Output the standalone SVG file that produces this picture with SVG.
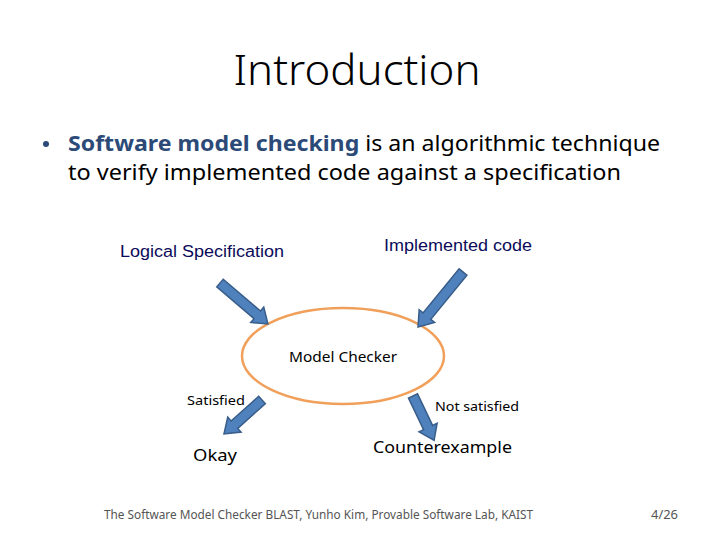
<svg xmlns="http://www.w3.org/2000/svg" width="720" height="540" viewBox="0 0 720 540">
<style>
  .sans { font-family: "Noto Sans", "Open Sans", sans-serif; }
  .arial { font-family: "Liberation Sans", Arial, sans-serif; fill: #0B0B5A; font-size: 16px; }
  .arrow { fill: #4F81BD; stroke: #385D8A; stroke-width: 1.5; stroke-linejoin: miter; }
</style>
<rect width="720" height="540" fill="#ffffff"/>
<text class="sans" x="357" y="85" font-size="42" font-weight="300" text-anchor="middle" fill="#000" textLength="247" lengthAdjust="spacingAndGlyphs">Introduction</text>
<circle cx="46" cy="144" r="3" fill="#2B4A78"/>
<text class="sans" x="68" y="151" font-size="21" fill="#000" textLength="592" lengthAdjust="spacingAndGlyphs"><tspan font-weight="bold" fill="#2B4A78">Software model checking</tspan> is an algorithmic technique</text>
<text class="sans" x="68" y="180" font-size="21" fill="#000" textLength="553" lengthAdjust="spacingAndGlyphs">to verify implemented code against a specification</text>

<g id="logical-spec"><text class="arial" x="120" y="257" textLength="164" lengthAdjust="spacingAndGlyphs">Logical Specification</text></g>
<g id="implemented-code"><text class="arial" x="384" y="251" textLength="148" lengthAdjust="spacingAndGlyphs">Implemented code</text></g>
<g id="model-checker">
  <ellipse cx="343" cy="356" rx="101" ry="48" fill="none" stroke="#F0A05A" stroke-width="2.5"/>
  <text class="sans" x="289" y="362" font-size="15" fill="#000" textLength="108" lengthAdjust="spacingAndGlyphs">Model Checker</text>
</g>
<g id="okay"><text class="sans" x="193" y="461" font-size="17" fill="#000" textLength="44" lengthAdjust="spacingAndGlyphs">Okay</text></g>
<g id="counterexample"><text class="sans" x="373" y="453" font-size="17" fill="#000" textLength="139" lengthAdjust="spacingAndGlyphs">Counterexample</text></g>

<g id="connectors">
  <g transform="translate(220,283) rotate(40.5)"><polygon class="arrow" points="0,-5 49,-5 49,-10 63,0 49,10 49,5 0,5"/></g>
  <g transform="translate(463,272) rotate(129.3)"><polygon class="arrow" points="0,-5 57,-5 57,-10 71,0 57,10 57,5 0,5"/></g>
  <g transform="translate(262,400) rotate(138.2)"><polygon class="arrow" points="0,-5 37,-5 37,-10 51,0 37,10 37,5 0,5"/></g>
  <g transform="translate(413,396) rotate(64.5)"><polygon class="arrow" points="0,-5 35,-5 35,-10 49,0 35,10 35,5 0,5"/></g>
  <text class="sans" x="187" y="405" font-size="13" fill="#000" textLength="58" lengthAdjust="spacingAndGlyphs">Satisfied</text>
  <text class="sans" x="435" y="411" font-size="13" fill="#000" textLength="84" lengthAdjust="spacingAndGlyphs">Not satisfied</text>
</g>

<text class="sans" x="104" y="519" font-size="12" fill="#555" textLength="429" lengthAdjust="spacingAndGlyphs">The Software Model Checker BLAST, Yunho Kim, Provable Software Lab, KAIST</text>
<text class="sans" x="651" y="519" font-size="12" fill="#555" textLength="27" lengthAdjust="spacingAndGlyphs">4/26</text>
</svg>
